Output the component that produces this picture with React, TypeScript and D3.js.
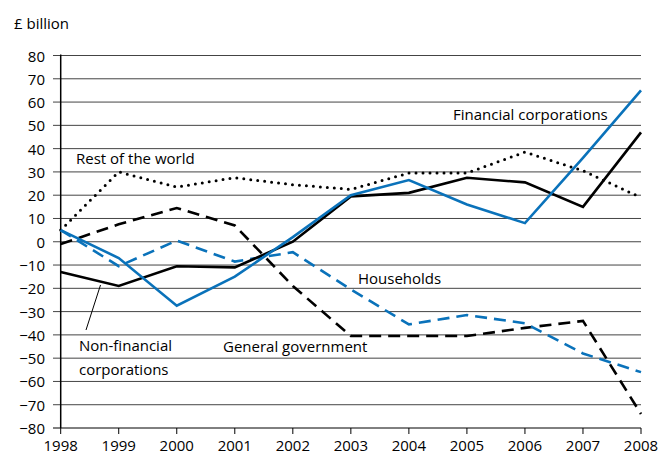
import * as d3 from 'd3'

const years = [1998, 1999, 2000, 2001, 2002, 2003, 2004, 2005, 2006, 2007, 2008]
const yTicks = [-80, -70, -60, -50, -40, -30, -20, -10, 0, 10, 20, 30, 40, 50, 60, 70, 80]

const nonFinancial = [-13, -19, -10.5, -11, 0, 19.5, 21, 27.5, 25.5, 15, 47]
const financial = [5, -7, -27.5, -15, 2, 20, 26.5, 16, 8, 36, 65]
const restOfWorld = [5, 30, 23.5, 27.5, 24.5, 22.5, 29.5, 29.5, 38.5, 30.5, 19]
const generalGov = [-1, 7.5, 14.5, 7, -19, -40.5, -40.5, -40.5, -37, -34, -74]
const households = [5, -10.5, 0.5, -8.5, -4.5, -20.5, -35.5, -31.5, -35, -48, -56]

const BLUE = '#0a72ba'
const FONT = '"Open Sans", sans-serif'

const series = [
    { name: 'restOfWorld', values: restOfWorld, colour: '#000', dash: '0 7', cap: 'round' },
    { name: 'generalGov', values: generalGov, colour: '#000', dash: '12 7', cap: 'butt' },
    { name: 'households', values: households, colour: BLUE, dash: '12 7', cap: 'butt' },
    { name: 'nonFinancial', values: nonFinancial, colour: '#000', dash: undefined, cap: 'butt' },
    { name: 'financial', values: financial, colour: BLUE, dash: undefined, cap: 'butt' },
]

const App = () => {
    const svgWidth = 671
    const svgHeight = 455

    const x = d3.scaleLinear().domain([1998, 2008]).range([60.7, 641])
    const y = d3.scaleLinear().domain([-80, 80]).range([428, 55.5])

    const line = d3
        .line<number>()
        .x((_, i) => x(years[i]))
        .y(d => y(d))

    const grid = yTicks.map(t => (
        <g key={'g' + t}>
            <line x1={53} x2={641} y1={y(t)} y2={y(t)} stroke={t === -80 ? '#000' : '#444'} strokeWidth={1} />
            <text
                x={45}
                y={y(t)}
                textAnchor="end"
                dominantBaseline="central"
                fontSize={15}
                fontFamily={FONT}
                fill="#000"
            >
                {t < 0 ? '\u2212' + Math.abs(t) : t}
            </text>
        </g>
    ))

    const xAxis = years.map(yr => (
        <g key={'x' + yr}>
            <line x1={x(yr)} x2={x(yr)} y1={y(-80)} y2={y(-80) + 6} stroke="#000" strokeWidth={1} />
            <text x={x(yr)} y={451} textAnchor="middle" fontSize={15} fontFamily={FONT} fill="#000">
                {yr}
            </text>
        </g>
    ))

    const lines = series.map(s => (
        <path
            key={s.name}
            d={line(s.values) ?? ''}
            fill="none"
            stroke={s.colour}
            strokeWidth={s.cap === 'round' ? 3 : 2.6}
            strokeDasharray={s.dash}
            strokeLinecap={s.cap as any}
            strokeLinejoin="miter"
        />
    ))

    const labelStyle = { fontSize: 15, fontFamily: FONT, fill: '#000' }

    return (
        <svg
            width={svgWidth}
            height={svgHeight}
            style={{ position: 'absolute', left: 0, top: 0, background: '#fff' }}
        >
            <text x={14} y={29} fontSize={15} fontFamily={FONT} fill="#000">£ billion</text>
            {grid}
            <line x1={x(1998)} x2={x(1998)} y1={y(80) - 1} y2={y(-80)} stroke="#000" strokeWidth={1.5} />
            {xAxis}
            {lines}
            <text x={453} y={120} {...labelStyle}>Financial corporations</text>
            <text x={76} y={164} {...labelStyle}>Rest of the world</text>
            <text x={358} y={284} {...labelStyle}>Households</text>
            <text x={223} y={352} {...labelStyle}>General government</text>
            <text x={79} y={351} {...labelStyle}>Non-financial</text>
            <text x={79} y={375} {...labelStyle}>corporations</text>
            <line x1={86} y1={330} x2={100.5} y2={285} stroke="#000" strokeWidth={1} />
        </svg>
    )
}

export default App
